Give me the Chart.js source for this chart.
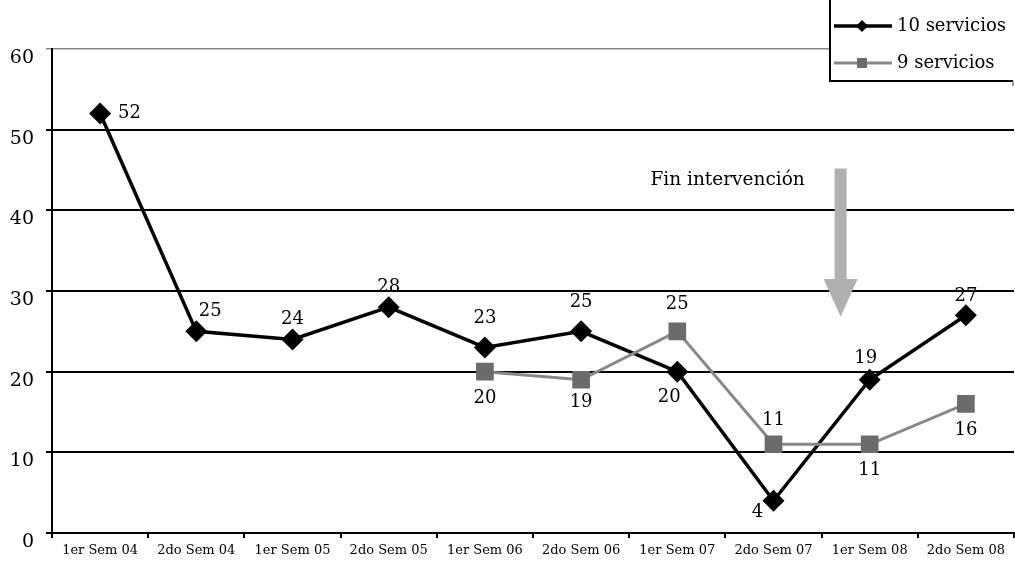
<!DOCTYPE html>
<html><head><meta charset="utf-8">
<script src="https://cdn.jsdelivr.net/npm/chart.js@4.4.1/dist/chart.umd.min.js"></script>
<style>html,body{margin:0;padding:0;background:#fff;}#wrap{width:1015px;height:565px;}</style>
</head><body><div id="wrap"><canvas id="c" width="1015" height="565"></canvas></div>
<script>
const categories = ['1er Sem 04','2do Sem 04','1er Sem 05','2do Sem 05','1er Sem 06','2do Sem 06','1er Sem 07','2do Sem 07','1er Sem 08','2do Sem 08'];
const serie10 = [52,25,24,28,23,25,20,4,19,27];
const serie9 = [null,null,null,null,20,19,25,11,11,16];
const yTicks = [0,10,20,30,40,50,60];
const seriesNames = ['10 servicios','9 servicios'];
const annotationText = 'Fin intervención';

// label offsets (style only)
const off10 = [[18,0,'left'],[14,-20],[0,-20],[0,-20],[0,-29],[0,-29],[-8,26],[-16,12],[-4,-21],[0,-19]];
const off9 = [null,null,null,null,[0,27],[0,23],[0,-27],[0,-24],[0,26],[0,26]];

const FONT = '"DejaVu Serif", "Liberation Serif", serif';

const labelsPlugin = {
  id:'labelsPlugin',
  afterDatasetsDraw(chart){
    const ctx = chart.ctx;
    ctx.save();
    ctx.font = '18px ' + FONT;
    ctx.fillStyle = '#000';
    ctx.textBaseline = 'middle';
    const sets = [[1,serie10,off10],[0,serie9,off9]];
    sets.forEach(([di,vals,offs])=>{
      const meta = chart.getDatasetMeta(di);
      vals.forEach((v,i)=>{
        if(v===null||!offs[i]) return;
        const p = meta.data[i];
        const o = offs[i];
        ctx.textAlign = o[2]||'center';
        ctx.fillText(String(v), p.x+o[0], p.y+o[1]);
      });
    });
    // arrow
    const xs = chart.scales.x, ys = chart.scales.y;
    const ax = (xs.getPixelForValue(7)+xs.getPixelForValue(8))/2 + 19;
    const top = ys.getPixelForValue(45.2), headStart = ys.getPixelForValue(31.5), tip = ys.getPixelForValue(26.8);
    ctx.fillStyle = '#b0b0b0';
    ctx.beginPath();
    ctx.moveTo(ax-6, top); ctx.lineTo(ax+6, top); ctx.lineTo(ax+6, headStart);
    ctx.lineTo(ax+17, headStart); ctx.lineTo(ax, tip); ctx.lineTo(ax-17, headStart);
    ctx.lineTo(ax-6, headStart); ctx.closePath(); ctx.fill();
    ctx.fillStyle = '#000';
    ctx.textAlign = 'center';
    ctx.font = '18.5px ' + FONT;
    ctx.fillText(annotationText, ax-113, ys.getPixelForValue(43.7));
    // legend
    ctx.fillStyle = '#fff';
    ctx.fillRect(831,0,184,80);
    ctx.strokeStyle = '#000'; ctx.lineWidth = 2;
    ctx.beginPath(); ctx.moveTo(830,0); ctx.lineTo(830,81); ctx.lineTo(1013,81); ctx.stroke();
    ctx.strokeStyle = '#777'; ctx.lineWidth = 1.5;
    ctx.beginPath(); ctx.moveTo(1013,81); ctx.lineTo(1013,86); ctx.stroke();
    // entry 1
    ctx.strokeStyle = '#000'; ctx.lineWidth = 3.5;
    ctx.beginPath(); ctx.moveTo(834,26); ctx.lineTo(892,26); ctx.stroke();
    ctx.fillStyle = '#000';
    ctx.beginPath(); ctx.moveTo(862,20); ctx.lineTo(868,26); ctx.lineTo(862,32); ctx.lineTo(856,26); ctx.closePath(); ctx.fill();
    // entry 2
    ctx.strokeStyle = '#888'; ctx.lineWidth = 3;
    ctx.beginPath(); ctx.moveTo(834,63); ctx.lineTo(892,63); ctx.stroke();
    ctx.fillStyle = '#6b6b6b';
    ctx.fillRect(857,58,10,10);
    ctx.fillStyle = '#000'; ctx.textAlign='left';
    ctx.font = '18px ' + FONT;
    ctx.fillText(seriesNames[0], 897, 26);
    ctx.fillText(seriesNames[1], 897, 63);
    ctx.restore();
  }
};

new Chart(document.getElementById('c'), {
  type:'line',
  data:{
    labels: categories,
    datasets:[
      {label:seriesNames[1], data:serie9, borderColor:'#888', borderWidth:3, pointStyle:'rect', pointRadius:12.5, pointHoverRadius:12.5, pointBackgroundColor:'#6b6b6b', pointBorderColor:'#6b6b6b', pointBorderWidth:0, tension:0, spanGaps:false, order:1},
      {label:seriesNames[0], data:serie10, borderColor:'#000', borderWidth:3.5, pointStyle:'rectRot', pointRadius:11, pointHoverRadius:11, pointBackgroundColor:'#000', pointBorderColor:'#000', pointBorderWidth:0, tension:0, order:2}
    ]
  },
  options:{
    responsive:false, animation:false, devicePixelRatio:1,
    layout:{autoPadding:false, padding:{top:49,right:1,left:0,bottom:0}},
    plugins:{legend:{display:false}, tooltip:{enabled:false}},
    scales:{
      x:{
        offset:true,
        grid:{offset:true, drawOnChartArea:false, drawTicks:true, tickLength:5, color:'#000', lineWidth:2},
        border:{color:'#000', width:2},
        ticks:{font:{family:FONT, size:13}, color:'#000', padding:5, maxRotation:0, autoSkip:false},
        afterFit(s){ s.height = 32; s.paddingLeft = 0; s.paddingRight = 0; }
      },
      y:{
        min:0, max:60,
        afterBuildTicks(s){ s.ticks = yTicks.map(v=>({value:v})); },
        grid:{color:(c)=> c.tick && c.tick.value===60 ? '#888' : '#000', lineWidth:(c)=> c.tick && c.tick.value===60 ? 1.5 : 2, tickLength:6, drawTicks:true},
        border:{color:'#000', width:2},
        ticks:{font:{family:FONT, size:19}, color:'#000', padding:12, labelOffset:9},
        afterFit(s){ s.width = 52; s.paddingTop = 0; s.paddingBottom = 0; }
      }
    }
  },
  plugins:[labelsPlugin]
});
</script></body></html>
